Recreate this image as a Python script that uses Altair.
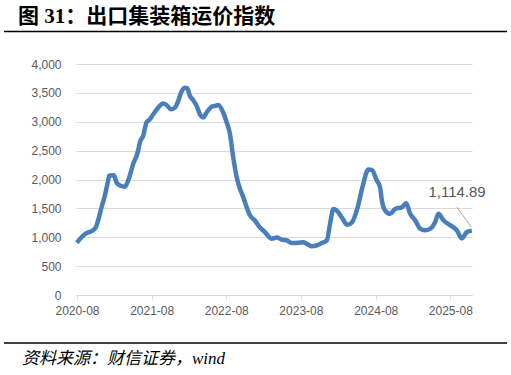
import altair as alt
import pandas as pd

# ---- data ----
dates = [
    "2020-07-31", "2020-08-23", "2020-09-16", "2020-10-11", "2020-11-01", "2020-11-12",
    "2020-11-29", "2020-12-15", "2020-12-31", "2021-01-06", "2021-01-28", "2021-02-10",
    "2021-02-27", "2021-03-23", "2021-04-08", "2021-05-03", "2021-05-27", "2021-06-04",
    "2021-06-21", "2021-07-07", "2021-07-20", "2021-08-09", "2021-09-02", "2021-09-27",
    "2021-10-13", "2021-11-03", "2021-11-23", "2021-12-09", "2021-12-26", "2022-01-11",
    "2022-01-22", "2022-02-04", "2022-02-20", "2022-03-09", "2022-03-25", "2022-04-10",
    "2022-04-27", "2022-05-21", "2022-06-07", "2022-06-23", "2022-07-17", "2022-08-03",
    "2022-08-19", "2022-09-04", "2022-09-21", "2022-10-07", "2022-10-23", "2022-11-09",
    "2022-11-25", "2022-12-19", "2023-01-10", "2023-02-06", "2023-03-11", "2023-04-05",
    "2023-04-29", "2023-05-24", "2023-06-17", "2023-07-19", "2023-08-13", "2023-09-06",
    "2023-09-23", "2023-10-18", "2023-11-11", "2023-12-06", "2023-12-22", "2024-01-07",
    "2024-01-23", "2024-02-17", "2024-03-15", "2024-04-07", "2024-05-04", "2024-05-29",
    "2024-06-26", "2024-07-13", "2024-08-06", "2024-08-22", "2024-08-31", "2024-09-16",
    "2024-10-10", "2024-11-04", "2024-12-07", "2024-12-28", "2025-01-16", "2025-02-10",
    "2025-03-06", "2025-03-31", "2025-04-24", "2025-05-19", "2025-06-04", "2025-06-28",
    "2025-07-31", "2025-09-02", "2025-09-26", "2025-10-21", "2025-11-14",
]
values = [
    905, 1000, 1070, 1105, 1170, 1290,
    1520, 1720, 1980, 2070, 2075, 1950,
    1895, 1875, 1980, 2270, 2500, 2640,
    2760, 2990, 3030, 3130, 3245, 3315,
    3290, 3215, 3245, 3360, 3530, 3590,
    3580, 3450, 3375, 3275, 3130, 3075,
    3160, 3260, 3275, 3290, 3160, 2990,
    2790, 2385, 2040, 1840, 1695, 1520,
    1380, 1290, 1180, 1090, 975, 995,
    960, 945, 900, 905, 915, 870,
    845, 860, 900, 945, 1240, 1490,
    1465, 1345, 1215, 1260, 1510, 1880,
    2175, 2165, 1985, 1870, 1640, 1465,
    1405, 1490, 1520, 1590, 1410, 1295,
    1150, 1120, 1145, 1265, 1405, 1295,
    1210, 1120, 980, 1090, 1114.89,
]
tick_years = [2020, 2021, 2022, 2023, 2024, 2025]
y_ticks = [0, 500, 1000, 1500, 2000, 2500, 3000, 3500, 4000]

label_text = ["1,114.89"]
label_date = ["2025-09-03"]
label_value = [1784]
leader_dates = ["2025-09-01", "2025-11-12"]
leader_values = [1524, 1177]

title_text = "图 31：出口集装箱运价指数"
source_text = "资料来源：财信证券，wind"

df = pd.DataFrame({"date": pd.to_datetime(dates), "value": values})
lab_df = pd.DataFrame({"date": pd.to_datetime(label_date), "value": label_value, "label": label_text})
lead_df = pd.DataFrame({"date": pd.to_datetime(leader_dates), "value": leader_values})

x_scale = alt.Scale(domain=[alt.DateTime(year=2020, month=7, date=27),
                            alt.DateTime(year=2025, month=11, date=15)])
y_scale = alt.Scale(domain=[0, 4000])

x_enc = alt.X("date:T", scale=x_scale, title=None,
              axis=alt.Axis(values=[alt.DateTime(year=y, month=8, date=1) for y in tick_years],
                            format="%Y-%m", grid=False, domainColor="#D9D9D9",
                            tickColor="#D9D9D9", tickSize=4, labelPadding=6,
                            labelFont="Liberation Sans", labelFontSize=12,
                            labelColor="#595959", labelAngle=0, labelOverlap=False))
y_enc = alt.Y("value:Q", scale=y_scale, title=None,
              axis=alt.Axis(values=y_ticks, format=",.0f", grid=True, gridColor="#D9D9D9",
                            gridWidth=1, domain=False, ticks=False, labelPadding=15,
                            labelFont="Liberation Sans", labelFontSize=12,
                            labelColor="#595959", labelOverlap=False))

line = alt.Chart(df).mark_line(color="#4A7EBB", strokeWidth=4.5,
                               interpolate="monotone").encode(x=x_enc, y=y_enc)

leader = alt.Chart(lead_df).mark_line(color="#A6A6A6", strokeWidth=1).encode(
    x=x_enc, y=y_enc)

label = alt.Chart(lab_df).mark_text(font="Liberation Sans", fontSize=15,
                                    color="#595959").encode(
    x=x_enc, y=y_enc, text="label:N")

one = pd.DataFrame({"t": [title_text]})
title = alt.Chart(one).mark_text(font="Liberation Serif, Noto Sans CJK SC",
                                 fontSize=21, fontWeight="bold", color="#000000",
                                 align="left", baseline="middle").encode(
    x=alt.value(-58), y=alt.value(-47.5), text="t:N")

src = pd.DataFrame({"t": [source_text]})
source = alt.Chart(src).mark_text(font="Liberation Serif, Noto Sans CJK SC",
                                  fontSize=17, fontStyle="italic", color="#000000",
                                  align="left", baseline="middle").encode(
    x=alt.value(-54), y=alt.value(295), text="t:N")

rule_df = pd.DataFrame({"a": [0]})
top_rule = alt.Chart(rule_df).mark_rule(color="#000000", strokeWidth=1.5).encode(
    x=alt.value(-72), x2=alt.value(431), y=alt.value(-32.5))
bottom_rule = alt.Chart(rule_df).mark_rule(color="#000000", strokeWidth=1.5).encode(
    x=alt.value(-72), x2=alt.value(431), y=alt.value(279))

chart = alt.layer(line, leader, label, title, source, top_rule, bottom_rule).properties(
    width=396, height=231,
    autosize=alt.AutoSizeParams(type="none"),
    padding={"left": 76, "top": 64, "right": 39, "bottom": 80},
    background="white",
).configure_view(strokeWidth=0)

chart.save("out.html", embed_options={"renderer": "svg", "actions": False})
